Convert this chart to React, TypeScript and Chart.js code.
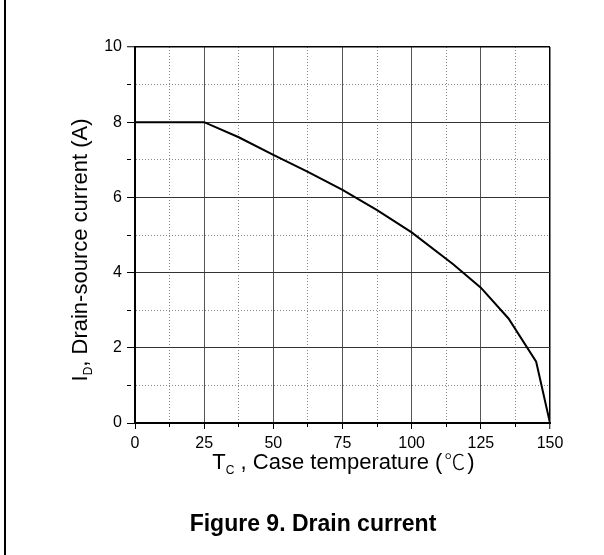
import React, { useEffect, useRef } from "react";
import { Chart, registerables } from "chart.js";

Chart.register(...registerables);

// Data
const caseTemps = [0, 25, 37.5, 50, 62.5, 75, 87.5, 100, 115, 125, 135, 145, 150];
const drainCurrent = [8, 8, 7.6, 7.13, 6.68, 6.2, 5.66, 5.07, 4.22, 3.6, 2.78, 1.63, 0];
const xMajorTicks = [0, 25, 50, 75, 100, 125, 150];
const yMajorTicks = [0, 2, 4, 6, 8, 10];

const xTitleMain = "T";
const xTitleSub = "C";
const xTitleRest = " , Case temperature (";
const xTitleUnit = "\u2103";
const xTitleClose = ")";
const yTitleMain = "I";
const yTitleSub = "D";
const yTitleRest = ", Drain-source current (A)";
const caption = "Figure 9. Drain current";

const FONT = "'Liberation Sans', Arial, 'Noto Sans CJK SC', sans-serif";
const CJK = "'Noto Sans CJK SC', 'Liberation Sans', sans-serif";

const textPlugin = {
  id: "customText",
  afterDraw(chart: any) {
    const { ctx, chartArea } = chart;
    const cx = (chartArea.left + chartArea.right) / 2;
    ctx.save();
    ctx.fillStyle = "#000";
    ctx.textBaseline = "alphabetic";
    ctx.textAlign = "left";

    // X axis title
    const big = `22px ${FONT}`;
    const small = `12px ${FONT}`;
    const unitFont = `300 21px ${CJK}`;
    const parts: [string, string, number][] = [
      [xTitleMain, big, 0],
      [xTitleSub, small, 5],
      [xTitleRest, big, 0],
      [xTitleUnit, unitFont, 0],
      [xTitleClose, big, 0],
    ];
    let total = 0;
    const widths = parts.map(([t, f]) => {
      ctx.font = f;
      const w = ctx.measureText(t).width + (t === xTitleUnit ? 4 : 0);
      total += w;
      return w;
    });
    let x = cx + 1 - total / 2;
    const by = chartArea.bottom + 46;
    parts.forEach(([t, f, dy], i) => {
      ctx.font = f;
      ctx.fillText(t, x + (t === xTitleUnit ? 2 : 0), by + dy);
      x += widths[i];
    });

    // Y axis title (rotated)
    ctx.save();
    const ty = 250;
    const tx = 87;
    ctx.translate(tx, ty);
    ctx.rotate(-Math.PI / 2);
    const yb = `22px ${FONT}`;
    ctx.font = yb;
    const v1 = ctx.measureText(yTitleMain).width;
    const v3 = ctx.measureText(yTitleRest).width;
    ctx.font = small;
    const v2 = ctx.measureText(yTitleSub).width;
    let yx = -(v1 + v2 + v3) / 2;
    ctx.font = yb;
    ctx.fillText(yTitleMain, yx, 0);
    yx += v1;
    ctx.font = small;
    ctx.fillText(yTitleSub, yx, 5);
    yx += v2;
    ctx.font = yb;
    ctx.fillText(yTitleRest, yx, 0);
    ctx.restore();

    // Caption
    ctx.font = `bold 23px ${FONT}`;
    ctx.textAlign = "center";
    ctx.fillText(caption, 313, 531);
    ctx.restore();
  },
};

const isMajor = (v: number, list: number[]) => list.includes(v);

export default function App() {
  const ref = useRef<HTMLCanvasElement>(null);

  useEffect(() => {
    if (!ref.current) return;
    const chart = new Chart(ref.current, {
      type: "line",
      data: {
        datasets: [
          {
            data: caseTemps.map((t, i) => ({ x: t, y: drainCurrent[i] })),
            borderColor: "#000",
            borderWidth: 2,
            pointRadius: 0,
            tension: 0,
            fill: false,
          },
        ],
      },
      plugins: [textPlugin],
      options: {
        responsive: false,
        animation: false,
        events: [],
        layout: { padding: { left: 75, right: 54, top: 47, bottom: 92 } },
        plugins: {
          legend: { display: false },
          tooltip: { enabled: false },
          title: { display: false },
        },
        scales: {
          x: {
            type: "linear",
            min: 0,
            max: 150,
            afterFit: (s: any) => {
              s.height = 40;
            },
            ticks: {
              stepSize: 12.5,
              autoSkip: false,
              maxRotation: 0,
              padding: 5,
              color: "#000",
              font: { family: FONT, size: 16 },
              callback: (v: any) => (isMajor(Number(v), xMajorTicks) ? String(v) : ""),
            },
            grid: {
              color: (c: any) => {
                const v = c.tick ? c.tick.value : 0;
                if (v === 150) return "#000";
                return isMajor(v, xMajorTicks) ? "#555" : "#888";
              },
              lineWidth: (c: any) => (c.tick && c.tick.value === 150 ? 1.5 : 1),
              tickLength: 6,
              tickColor: "#000",
              tickWidth: 1,
              tickBorderDash: (c: any) =>
                c.tick && !isMajor(c.tick.value, xMajorTicks) ? [3, 30] : [],
            },
            border: {
              color: "#000",
              width: 2,
              dash: (c: any) =>
                c.tick && !isMajor(c.tick.value, xMajorTicks) ? [1, 2] : [],
            },
          },
          y: {
            type: "linear",
            min: 0,
            max: 10,
            afterFit: (s: any) => {
              s.width = 60;
            },
            ticks: {
              stepSize: 1,
              autoSkip: false,
              padding: 5,
              color: "#000",
              font: { family: FONT, size: 16 },
              callback: (v: any) => (isMajor(Number(v), yMajorTicks) ? String(v) : ""),
            },
            grid: {
              color: (c: any) => {
                const v = c.tick ? c.tick.value : 0;
                if (v === 10) return "#000";
                return isMajor(v, yMajorTicks) ? "#333" : "#888";
              },
              lineWidth: (c: any) => (c.tick && c.tick.value === 10 ? 1.5 : 1),
              tickLength: 8,
              tickColor: "#000",
              tickWidth: 1,
              tickBorderDash: (c: any) =>
                c.tick && !isMajor(c.tick.value, yMajorTicks) ? [4, 30] : [],
            },
            border: {
              color: "#000",
              width: 2,
              dash: (c: any) =>
                c.tick && !isMajor(c.tick.value, yMajorTicks) ? [1, 2] : [],
            },
          },
        },
      } as any,
    });
    return () => chart.destroy();
  }, []);

  return (
    <div style={{ position: "absolute", left: 0, top: 0, width: 604, height: 555, background: "#fff" }}>
      <div style={{ position: "absolute", left: 4, top: 0, width: 2, height: 555, background: "#000" }} />
      <canvas ref={ref} width={604} height={555} style={{ position: "absolute", left: 0, top: 0 }} />
    </div>
  );
}
